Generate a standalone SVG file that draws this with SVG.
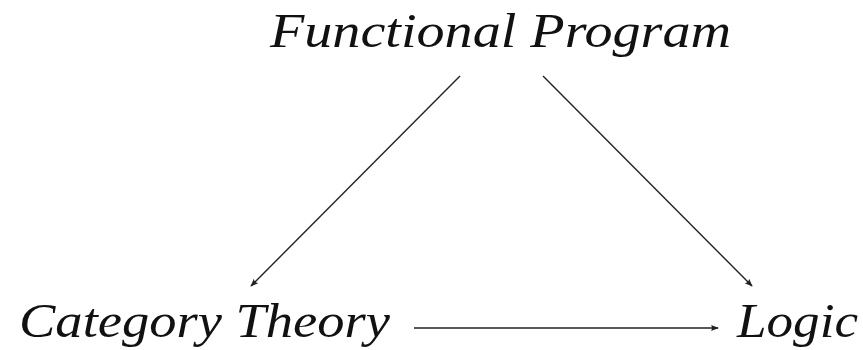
<svg xmlns="http://www.w3.org/2000/svg" width="863" height="350" viewBox="0 0 863 350">
<defs>
<style>
.lbl{font-family:"Liberation Serif","Times New Roman",serif;font-style:italic;font-size:48px;fill:#111}
.edge{stroke:#222;stroke-width:1.4;fill:none;marker-end:url(#ah)}
</style>
<marker id="ah" viewBox="0 0 10 10" refX="9" refY="5" markerWidth="8" markerHeight="8" markerUnits="userSpaceOnUse" orient="auto">
<path d="M0,1 L10,5 L0,9 Q3,5 0,1 Z" fill="#222"/>
</marker>
</defs>
<rect width="863" height="350" fill="#fff"/>
<g id="connectors">
<line class="edge" x1="460" y1="76" x2="251" y2="286"/>
<line class="edge" x1="543" y1="76" x2="752" y2="286"/>
<line class="edge" x1="414" y1="328" x2="718" y2="328"/>
</g>
<g id="functional-program">
<text class="lbl" x="270" y="47" textLength="461" lengthAdjust="spacingAndGlyphs">Functional Program</text>
</g>
<g id="category-theory">
<text class="lbl" x="19" y="337" textLength="371" lengthAdjust="spacingAndGlyphs">Category Theory</text>
</g>
<g id="logic">
<text class="lbl" x="737" y="337" textLength="121" lengthAdjust="spacingAndGlyphs">Logic</text>
</g>
</svg>
